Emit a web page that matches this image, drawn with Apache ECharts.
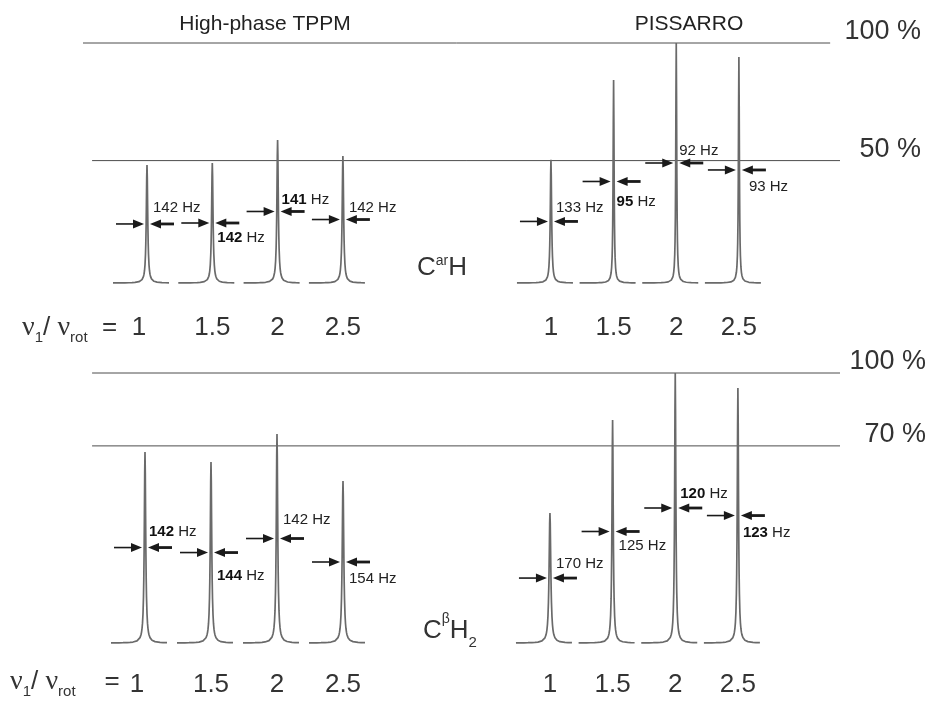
<!DOCTYPE html>
<html><head><meta charset="utf-8">
<script src="https://cdn.jsdelivr.net/npm/echarts@6/dist/echarts.min.js"></script>
<style>html,body{margin:0;padding:0;background:#fff}#c{width:933px;height:701px}</style>
</head><body><div id="c"></div>
<script>
// ================= DATA =================
const ratios = [1, 1.5, 2, 2.5];                 // nu1 / nu_rot
const ratioTickLabels = ['1', '1.5', '2', '2.5'];
const methodNames = ['High-phase TPPM', 'PISSARRO'];
const panelNames = ['C{sup|ar}H', 'C{sup|β}H{sub|2}'];

// peak heights (% of strongest peak in each panel, baseline = 0)
const carH_tppm_height     = [49.2, 50.0, 59.6, 52.9];
const carH_pissarro_height = [51.3, 84.6, 100, 94.2];
const cbH2_tppm_height     = [70.7, 67.0, 77.4, 60.0];
const cbH2_pissarro_height = [48.1, 82.6, 100, 94.4];

// line widths (FWHM, Hz)
const carH_tppm_fwhm     = [142, 142, 141, 142];
const carH_pissarro_fwhm = [133, 95, 92, 93];
const cbH2_tppm_fwhm     = [142, 144, 142, 154];
const cbH2_pissarro_fwhm = [170, 125, 120, 123];

// reference levels drawn as horizontal lines
const carH_refLevels = [100, 51];
const carH_refLabels = ['100 %', '50 %'];
const cbH2_refLevels = [100, 73];
const cbH2_refLabels = ['100 %', '70 %'];

// ================= LAYOUT / STYLE =================
const FONT = 'Liberation Sans, Arial, sans-serif';
const TXT = '#333';
const HZ_TO_PX = 0.006;                // half-width in px per Hz of FWHM
const sampleOffsetsPx = [-34,-30,-26,-22,-18,-15,-12,-10,-8,-7,-6,-5,-4.5,-4,-3.5,-3,-2.5,-2,-1.5,-1.2,-0.9,-0.6,-0.3,0,0.3,0.6,0.9,1.2,1.5,2,2.5,3,3.5,4,4.5,5,6,7,8,10,12,15,18,22];

const panels = [
  { top: 43, height: 240, tppm: {left: 81.7, width: 326.5}, piss: {left: 488.3, width: 313.25},
    ref: {left: 83, width: 757}, refSpan: [[0, 0.987], [0.012, 1]], labelMargin: 45,
    heights: [carH_tppm_height, carH_pissarro_height], fwhm: [carH_tppm_fwhm, carH_pissarro_fwhm],
    levels: carH_refLevels, levelLabels: carH_refLabels, levelLabelRight: 921,
    labelPos: [ [[6,-16],[5,15],[4,-12],[6,-12]], [[5,-14],[3,20],[3,-12],[10,17]] ],
    bold: [ [0,1,1,0], [0,1,0,0] ],
    name: {x: 417, y: 268}, prefix: {x: 22, y: 328, gap: '  ='} },
  { top: 373, height: 270, tppm: {left: 79, width: 330}, piss: {left: 487.3, width: 313.25},
    ref: {left: 83, width: 757}, refSpan: [[0.012, 1], [0.012, 1]], labelMargin: 42,
    heights: [cbH2_tppm_height, cbH2_pissarro_height], fwhm: [cbH2_tppm_fwhm, cbH2_pissarro_fwhm],
    levels: cbH2_refLevels, levelLabels: cbH2_refLabels, levelLabelRight: 926,
    labelPos: [ [[4,-16],[6,23],[6,-19],[6,17]], [[6,-14],[6,14],[5,-14],[5,17]] ],
    bold: [ [1,1,0,0], [0,0,1,1] ],
    name: {x: 423, y: 631}, prefix: {x: 10, y: 682, gap: '    ='} }
];

const grids = [], xAxes = [], yAxes = [], series = [], graphics = [];

function hiddenY(gi) {
  return {gridIndex: gi, type: 'value', min: 0, max: 100, show: false};
}

panels.forEach((P, pi) => {
  // reference-line grid
  const gRef = grids.length;
  grids.push({left: P.ref.left, width: P.ref.width, top: P.top, height: P.height});
  xAxes.push({gridIndex: gRef, type: 'value', min: 0, max: 1, show: false});
  yAxes.push(hiddenY(gRef));
  P.levels.forEach((lv, li) => {
    series.push({
      type: 'line', xAxisIndex: gRef, yAxisIndex: gRef, silent: true, symbol: 'none', clip: false,
      data: [[P.refSpan[li][0], lv], [P.refSpan[li][1], lv]],
      lineStyle: {color: '#4d4d4d', width: 1}
    });
    graphics.push({
      type: 'text', x: P.levelLabelRight, y: P.top + P.height * (1 - lv / 100) - 11,
      style: {text: P.levelLabels[li], fill: TXT, font: '27px ' + FONT, align: 'right', verticalAlign: 'middle'}
    });
  });

  // method grids
  [P.tppm, P.piss].forEach((G, mi) => {
    const gi = grids.length;
    grids.push({left: G.left, width: G.width, top: P.top, height: P.height});
    const pxPerUnit = G.width / 2.5;
    const isFirst = (mi === 0);
    xAxes.push({
      gridIndex: gi, type: 'value', min: 0.5, max: 3, interval: 0.5,
      axisLine: {show: false}, axisTick: {show: false}, splitLine: {show: false},
      axisLabel: {
        show: true, margin: P.labelMargin, color: TXT, fontSize: 26, fontFamily: FONT,
        verticalAlign: 'middle',
        formatter: v => {
          const k = ratios.indexOf(v);
          if (k < 0) return '';
          return (isFirst && k === 0) ? '{one|' + ratioTickLabels[k] + '}' : ratioTickLabels[k];
        },
        rich: {one: {fontSize: 26, fontFamily: FONT, color: TXT, padding: [0, 16, 0, 0]}}
      }
    });
    yAxes.push(hiddenY(gi));

    const heights = P.heights[mi], fwhm = P.fwhm[mi];
    // peaks
    ratios.forEach((r, i) => {
      const g = fwhm[i] * HZ_TO_PX;
      const pts = sampleOffsetsPx.map(d => [r + d / pxPerUnit, heights[i] / (1 + (d / g) * (d / g))]);
      series.push({
        type: 'line', xAxisIndex: gi, yAxisIndex: gi, data: pts, symbol: 'none', clip: false, silent: true,
        lineStyle: {color: '#6a6a6a', width: 1.7}
      });
    });
    // FWHM arrows + labels
    const lp = P.labelPos[mi], bold = P.bold[mi];
    series.push({
      type: 'custom', xAxisIndex: gi, yAxisIndex: gi, clip: false, silent: true, z: 5,
      data: ratios.map((r, i) => [r, heights[i], fwhm[i]]),
      renderItem: (params, api) => {
        const i = params.dataIndex;
        const c = api.coord([api.value(0), api.value(1) / 2]);
        const x = c[0], y = c[1];
        const hz = api.value(2);
        const txt = bold[i] ? '{b|' + hz + '} Hz' : hz + ' Hz';
        return {type: 'group', children: [
          {type: 'line', shape: {x1: x - 31, y1: y, x2: x - 12, y2: y}, style: {stroke: '#1a1a1a', lineWidth: 1.6}},
          {type: 'polygon', shape: {points: [[x - 3, y], [x - 14, y - 4.5], [x - 14, y + 4.5]]}, style: {fill: '#1a1a1a'}},
          {type: 'line', shape: {x1: x + 12, y1: y, x2: x + 27, y2: y}, style: {stroke: '#1a1a1a', lineWidth: 2.8}},
          {type: 'polygon', shape: {points: [[x + 3, y], [x + 14, y - 4.5], [x + 14, y + 4.5]]}, style: {fill: '#1a1a1a'}},
          {type: 'text', x: x + lp[i][0], y: y + lp[i][1], style: {
            text: txt, fill: '#222', font: '15px ' + FONT, align: 'left', verticalAlign: 'middle',
            rich: {b: {fill: '#111', fontSize: 15, fontWeight: 'bold', fontFamily: FONT}}
          }}
        ]};
      }
    });
  });

  // panel name (C^arH / C^betaH_2)
  graphics.push({
    type: 'text', x: P.name.x, y: P.name.y,
    style: {
      text: panelNames[pi].replace(/^C/, '{m|C}').replace(/}H/, '}{m|H}'),
      align: 'left', verticalAlign: 'middle',
      rich: {
        m: {fontSize: 26, fontFamily: FONT, fill: TXT, lineHeight: pi === 0 ? 28 : 38},
        sup: {fontSize: 14, fontFamily: FONT, fill: TXT, verticalAlign: 'top'},
        sub: {fontSize: 15, fontFamily: FONT, fill: TXT, verticalAlign: 'bottom'}
      }
    }
  });
  // nu1 / nu_rot prefix
  graphics.push({
    type: 'text', x: P.prefix.x, y: P.prefix.y,
    style: {
      text: '{nu|ν}{s|1}{m|/ }{nu|ν}{s|rot}{m|' + P.prefix.gap + '}',
      align: 'left', verticalAlign: 'middle',
      rich: {
        nu: {fontSize: 28, fontFamily: 'Liberation Serif, serif', fill: TXT, lineHeight: 34},
        m: {fontSize: 26, fontFamily: FONT, fill: TXT, lineHeight: 34},
        s: {fontSize: 15, fontFamily: FONT, fill: TXT, verticalAlign: 'bottom'}
      }
    }
  });
});

// method titles
graphics.push({type: 'text', x: 265, y: 24, style: {text: methodNames[0], fill: '#222', font: '21px ' + FONT, align: 'center', verticalAlign: 'middle'}});
graphics.push({type: 'text', x: 689, y: 24, style: {text: methodNames[1], fill: '#222', font: '21px ' + FONT, align: 'center', verticalAlign: 'middle'}});

const chart = echarts.init(document.getElementById('c'), null, {renderer: 'canvas'});
chart.setOption({
  backgroundColor: '#fff',
  animation: false,
  grid: grids, xAxis: xAxes, yAxis: yAxes, series: series, graphic: graphics
});
</script></body></html>
